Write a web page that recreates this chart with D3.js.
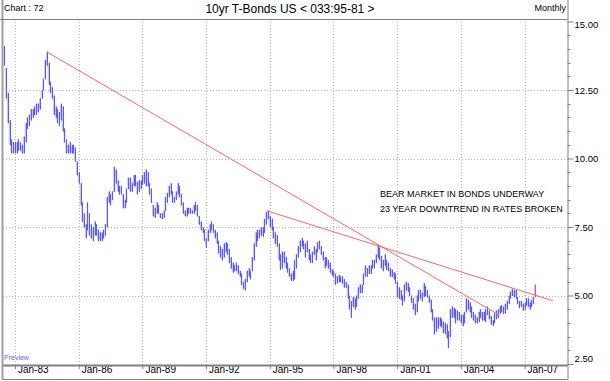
<!DOCTYPE html>
<html>
<head>
<meta charset="utf-8">
<script src="https://cdn.jsdelivr.net/npm/d3@7"></script>
<style>
  body { margin: 0; background: #fff; }
  text { font-family: Arial, "Liberation Sans", sans-serif; }
</style>
</head>
<body>
<script>
// monthly bars, first one is Jun 1982, last one Jun 2007 (each bar sits at the start of the next month)
var firstMonth = new Date(1982, 5, 1);

var hi = [
  14.1, 13.3, 12.4, 11.4, 10.7, 10.6, 10.6,                          // 1982 jun-dec
  10.6, 10.7, 10.6, 10.5, 10.8, 11.3, 11.5, 11.6, 11.8, 11.8, 11.9, 12.0, // 1983
  12.0, 12.2, 12.5, 12.9, 13.6, 13.9, 13.5, 12.8, 12.6, 12.3, 11.9, 11.8, // 1984
  11.7, 12.0, 11.9, 11.1, 10.7, 10.5, 10.6, 10.5, 10.5, 10.4, 9.9, 9.5,   // 1985
  9.1, 8.4, 8.0, 7.6, 8.4, 8.0, 7.6, 7.5, 7.7, 7.6, 7.4, 7.3,             // 1986
  7.3, 7.4, 7.6, 8.6, 8.8, 8.7, 8.8, 9.7, 9.6, 9.2, 9.0, 9.0,             // 1987
  8.7, 8.5, 8.9, 9.3, 9.3, 9.1, 9.4, 9.4, 9.15, 9.2, 9.2, 9.4,            // 1988
  9.5, 9.6, 9.5, 9.1, 8.9, 8.3, 8.2, 8.4, 8.3, 8.0, 8.0, 8.1,             // 1989
  8.6, 8.75, 9.0, 9.1, 8.8, 8.6, 8.8, 9.1, 9.0, 8.7, 8.4, 8.1,            // 1990
  8.2, 8.2, 8.2, 8.1, 8.3, 8.4, 8.3, 7.9, 7.7, 7.5, 7.4, 7.1,             // 1991
  7.4, 7.6, 7.7, 7.6, 7.4, 7.3, 7.0, 6.8, 6.7, 6.9, 6.95, 6.9,            // 1992
  6.7, 6.4, 6.2, 6.1, 6.2, 6.1, 5.9, 5.8, 5.5, 5.6, 5.9, 6.0,             // 1993
  5.9, 6.4, 6.9, 7.3, 7.4, 7.4, 7.5, 7.5, 7.8, 8.05, 8.1, 7.9,            // 1994
  7.8, 7.5, 7.3, 7.2, 6.9, 6.5, 6.6, 6.6, 6.4, 6.2, 6.0, 5.8,             // 1995
  5.9, 6.3, 6.5, 6.8, 7.0, 7.1, 7.0, 6.9, 7.0, 6.7, 6.5, 6.6,             // 1996
  6.8, 6.7, 6.95, 7.0, 6.8, 6.6, 6.4, 6.4, 6.3, 6.2, 5.95, 5.9,           // 1997
  5.8, 5.7, 5.75, 5.7, 5.7, 5.6, 5.5, 5.4, 5.0, 4.8, 4.95, 4.9,           // 1998
  5.0, 5.3, 5.4, 5.4, 5.8, 6.1, 6.0, 6.1, 6.1, 6.3, 6.3, 6.5,             // 1999
  6.85, 6.75, 6.45, 6.3, 6.5, 6.3, 6.2, 6.0, 5.95, 5.85, 5.8, 5.5,        // 2000
  5.3, 5.2, 5.0, 5.4, 5.5, 5.45, 5.3, 5.0, 4.9, 4.7, 5.0, 5.2,            // 2001
  5.2, 5.1, 5.45, 5.35, 5.2, 5.0, 4.85, 4.5, 4.2, 4.2, 4.2, 4.2,          // 2002
  4.15, 4.05, 4.0, 3.95, 3.7, 4.5, 4.6, 4.55, 4.5, 4.45, 4.4, 4.3,        // 2003
  4.3, 4.4, 4.9, 4.85, 4.75, 4.6, 4.4, 4.3, 4.2, 4.4, 4.5, 4.4,           // 2004
  4.4, 4.5, 4.6, 4.45, 4.25, 4.1, 4.35, 4.45, 4.5, 4.6, 4.65, 4.6,        // 2005
  4.7, 4.8, 5.0, 5.15, 5.25, 5.2, 5.2, 4.95, 4.8, 4.8, 4.7, 4.75,         // 2006
  4.9, 4.9, 4.75, 4.85, 4.95, 5.4                                       // 2007 jan-jun
];

var lo = [
  13.4, 12.2, 11.3, 10.5, 10.2, 10.2, 10.2,
  10.2, 10.3, 10.3, 10.2, 10.2, 10.6, 11.1, 11.2, 11.4, 11.5, 11.6, 11.6,
  11.7, 11.8, 12.2, 12.5, 12.9, 13.4, 12.7, 12.4, 12.2, 11.6, 11.5, 11.3,
  11.2, 11.4, 11.0, 10.6, 10.2, 10.2, 10.2, 10.2, 10.2, 9.9, 9.4, 9.1,
  8.3, 7.7, 7.5, 7.1, 7.4, 7.2, 7.1, 7.0, 7.2, 7.2, 7.0, 7.0,
  7.0, 7.1, 7.2, 7.5, 8.4, 8.3, 8.5, 8.8, 9.1, 8.8, 8.7, 8.7,
  8.2, 8.2, 8.4, 8.9, 8.8, 8.8, 9.0, 9.0, 8.7, 8.8, 8.9, 9.05,
  9.1, 9.0, 9.0, 8.7, 8.4, 7.9, 7.85, 8.0, 8.0, 7.85, 7.8, 7.85,
  8.1, 8.4, 8.6, 8.7, 8.4, 8.4, 8.5, 8.7, 8.6, 8.3, 8.0, 7.9,
  7.9, 8.0, 8.0, 8.0, 8.0, 8.1, 7.9, 7.6, 7.4, 7.3, 7.0, 6.75,
  7.0, 7.3, 7.4, 7.3, 7.1, 6.9, 6.55, 6.4, 6.3, 6.4, 6.6, 6.5,
  6.2, 6.0, 5.85, 5.9, 5.9, 5.8, 5.7, 5.4, 5.25, 5.2, 5.5, 5.7,
  5.6, 5.9, 6.3, 6.8, 7.0, 7.1, 7.2, 7.15, 7.3, 7.6, 7.8, 7.5,
  7.4, 7.1, 6.9, 6.8, 6.3, 5.95, 6.0, 6.2, 6.0, 5.85, 5.7, 5.55,
  5.55, 5.6, 6.0, 6.4, 6.6, 6.8, 6.7, 6.4, 6.6, 6.3, 6.2, 6.2,
  6.5, 6.3, 6.6, 6.7, 6.5, 6.3, 6.0, 6.1, 6.0, 5.85, 5.75, 5.7,
  5.4, 5.45, 5.5, 5.5, 5.45, 5.3, 5.3, 4.9, 4.5, 4.2, 4.6, 4.5,
  4.6, 4.9, 5.1, 5.1, 5.4, 5.7, 5.7, 5.8, 5.8, 6.0, 6.0, 6.2,
  6.4, 6.3, 6.0, 5.9, 6.1, 5.95, 5.9, 5.7, 5.7, 5.6, 5.45, 4.95,
  4.9, 4.85, 4.65, 4.8, 5.2, 5.15, 5.0, 4.75, 4.5, 4.3, 4.4, 4.8,
  4.9, 4.8, 4.95, 5.0, 4.95, 4.75, 4.4, 4.1, 3.6, 3.7, 3.8, 3.9,
  3.85, 3.65, 3.6, 3.45, 3.1, 3.5, 4.2, 4.2, 4.0, 4.1, 4.1, 4.0,
  3.9, 4.0, 4.4, 4.5, 4.4, 4.2, 4.1, 4.0, 4.0, 4.05, 4.2, 4.1,
  4.1, 4.05, 4.3, 4.15, 3.95, 3.9, 4.0, 4.15, 4.2, 4.35, 4.4, 4.35,
  4.35, 4.5, 4.7, 4.9, 5.0, 4.95, 4.9, 4.7, 4.55, 4.6, 4.45, 4.5,
  4.65, 4.6, 4.5, 4.6, 4.7, 4.95
];

var tickYears = [1983, 1986, 1989, 1992, 1995, 1998, 2001, 2004, 2007];
var tickLabels = ['Jan-83', 'Jan-86', 'Jan-89', 'Jan-92', 'Jan-95', 'Jan-98', 'Jan-01', 'Jan-04', 'Jan-07'];
var yTicks = [2.5, 5, 7.5, 10, 12.5, 15];
var yMinor = [3, 3.5, 4, 4.5, 5.5, 6, 6.5, 7, 8, 8.5, 9, 9.5, 10.5, 11, 11.5, 12, 13, 13.5, 14, 14.5];

// trend lines: [date, value] end points
var trend1 = [[new Date(1984, 6, 1), 13.89], [new Date(2005, 9, 27), 4.28]];
var trend2 = [[new Date(1994, 10, 13), 8.09], [new Date(2008, 3, 30), 4.81]];

var note = ['BEAR MARKET IN BONDS UNDERWAY', '23 YEAR DOWNTREND IN RATES BROKEN'];

function graficar() {
  var width = 610, height = 381;
  var left = 3, right = 567.5, top = 19, bottom = 365;

  var svg = d3.select('body').append('svg')
    .attr('width', width)
    .attr('height', height);

  var x = d3.scaleTime()
    .domain([new Date(1983, 0, 1), new Date(2007, 0, 1)])
    .range([15, 524.5]);
  var y = d3.scaleLinear()
    .domain([5, 12.5])
    .range([295.5, 90]);

  svg.append('clipPath').attr('id', 'clip')
    .append('rect').attr('x', left).attr('y', top).attr('width', right - left).attr('height', bottom - top);

  // grid
  var grid = svg.append('g');
  grid.selectAll('.hg').data([5, 7.5, 10, 12.5]).enter().append('line')
    .attr('x1', left).attr('x2', right)
    .attr('y1', function (d) { return Math.round(y(d)) + 0.5; })
    .attr('y2', function (d) { return Math.round(y(d)) + 0.5; })
    .attr('stroke', '#b4b4b4').attr('stroke-dasharray', '1,2');
  grid.selectAll('.vg').data(tickYears).enter().append('line')
    .attr('x1', function (d) { return Math.round(x(new Date(d, 0, 1))) + 0.5; })
    .attr('x2', function (d) { return Math.round(x(new Date(d, 0, 1))) + 0.5; })
    .attr('y1', top).attr('y2', bottom)
    .attr('stroke', '#b4b4b4').attr('stroke-dasharray', '1,2');

  // monthly bars
  var bars = hi.map(function (h, i) {
    return { date: d3.timeMonth.offset(firstMonth, i + 1), hi: h, lo: lo[i] };
  });
  var plot = svg.append('g').attr('clip-path', 'url(#clip)');
  plot.selectAll('.fill').data(bars).enter().append('rect')
    .attr('x', function (d) { return x(d.date) - 0.9; })
    .attr('width', 1.8)
    .attr('y', function (d) { return y(d.hi); })
    .attr('height', function (d) { return Math.max(1, y(d.lo) - y(d.hi)); })
    .attr('fill', '#c4c4ff');
  plot.selectAll('.bar').data(bars).enter().append('line')
    .attr('x1', function (d) { return Math.round(x(d.date)) + 0.5; })
    .attr('x2', function (d) { return Math.round(x(d.date)) + 0.5; })
    .attr('y1', function (d) { return y(d.hi); })
    .attr('y2', function (d) { return y(d.lo) + 0.5; })
    .attr('stroke', function (d, i) { return i == bars.length - 1 ? '#ff5050' : '#5a5af5'; })
    .attr('stroke-width', 1);

  // trend lines
  [trend1, trend2].forEach(function (t) {
    plot.append('line')
      .attr('x1', x(t[0][0])).attr('y1', y(t[0][1]))
      .attr('x2', x(t[1][0])).attr('y2', y(t[1][1]))
      .attr('stroke', '#ff6464').attr('stroke-width', 1);
  });

  // note
  svg.selectAll('.note').data(note).enter().append('text')
    .attr('x', 380).attr('y', function (d, i) { return 196.5 + i * 15; })
    .attr('font-size', 9).attr('fill', '#000')
    .text(function (d) { return d; });

  // y axis on the right
  var yAxis = d3.axisRight(y).tickValues(yTicks).tickSize(6)
    .tickFormat(function (d) { return d.toFixed(2); });
  var ya = svg.append('g').attr('transform', 'translate(' + right + ',0)').call(yAxis);
  ya.select('.domain').remove();
  ya.selectAll('line').attr('stroke', '#808080');
  ya.selectAll('text').attr('font-size', 9.5).attr('fill', '#000').attr('x', 7)
    .attr('font-family', 'Arial, "Liberation Sans", sans-serif');
  ya.selectAll('.tick').filter(function (d) { return d == 15; }).select('text').attr('dy', '0.62em');
  ya.selectAll('.tick').filter(function (d) { return d == 2.5; }).select('text').attr('dy', '-0.3em');
  svg.append('g').selectAll('line').data(yMinor).enter().append('line')
    .attr('x1', right).attr('x2', right + 3)
    .attr('y1', function (d) { return Math.round(y(d)) + 0.5; })
    .attr('y2', function (d) { return Math.round(y(d)) + 0.5; })
    .attr('stroke', '#808080');

  // x axis at the bottom
  var xAxis = d3.axisBottom(x)
    .tickValues(tickYears.map(function (d) { return new Date(d, 0, 1); }))
    .tickSize(4)
    .tickFormat(function (d, i) { return tickLabels[i]; });
  var xa = svg.append('g').attr('transform', 'translate(0,' + bottom + ')').call(xAxis);
  xa.select('.domain').remove();
  xa.selectAll('line').attr('stroke', '#808080');
  xa.selectAll('text').attr('font-size', 10).attr('fill', '#000')
    .attr('text-anchor', 'start').attr('x', 2.5).attr('y', 1)
    .attr('font-family', 'Arial, "Liberation Sans", sans-serif');

  // frame
  svg.append('line').attr('x1', left).attr('x2', right).attr('y1', bottom + 0.5).attr('y2', bottom + 0.5)
    .attr('stroke', '#808080').attr('stroke-width', 2);
  svg.append('line').attr('x1', right + 0.5).attr('x2', right + 0.5).attr('y1', 0).attr('y2', 380)
    .attr('stroke', '#808080');
  svg.append('line').attr('x1', 2.5).attr('x2', 2.5).attr('y1', 0).attr('y2', 380)
    .attr('stroke', '#a0a0a0').attr('stroke-width', 2);
  svg.append('line').attr('x1', 0).attr('x2', right).attr('y1', top + 0.5).attr('y2', top + 0.5)
    .attr('stroke', '#808080');
  svg.append('line').attr('x1', left).attr('x2', right).attr('y1', 379.5).attr('y2', 379.5)
    .attr('stroke', '#808080');

  // header
  svg.append('text').attr('x', 4).attr('y', 11).attr('font-size', 9).text('Chart : 72');
  svg.append('text').attr('x', 290).attr('y', 13).attr('font-size', 12).attr('text-anchor', 'middle')
    .text('10yr T-Bonds US < 033:95-81 >');
  svg.append('text').attr('x', 566).attr('y', 11).attr('font-size', 9).attr('text-anchor', 'end').text('Monthly');

  svg.append('text').attr('x', 4).attr('y', 360).attr('font-size', 7).attr('fill', '#6464ff').text('Preview');
}

graficar();
</script>
</body>
</html>
